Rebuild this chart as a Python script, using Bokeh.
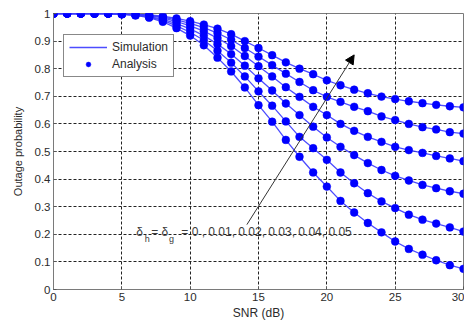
from bokeh.plotting import figure
from bokeh.models import (Range1d, FixedTicker, CustomJSTickFormatter, Legend, LegendItem,
                          Arrow, NormalHead, ColumnDataSource)
from bokeh.core.properties import value
from bokeh.embed import file_html
from bokeh.resources import INLINE

snr = [0, 1, 2, 3, 4, 5, 6, 7, 8, 9, 10, 11, 12, 13, 14, 15, 16, 17, 18, 19, 20,
       21, 22, 23, 24, 25, 26, 27, 28, 29, 30]

delta_000 = [1.0, 1.0, 1.0, 1.0, 1.0, 0.999, 0.998, 0.995, 0.990, 0.982, 0.972, 0.960, 0.945,
             0.925, 0.900, 0.875, 0.849, 0.823, 0.800, 0.780, 0.758, 0.740, 0.724, 0.711,
             0.699, 0.690, 0.682, 0.675, 0.669, 0.664, 0.660]
delta_001 = [1.0, 1.0, 1.0, 1.0, 1.0, 0.999, 0.997, 0.994, 0.987, 0.977, 0.964, 0.949, 0.929,
             0.905, 0.875, 0.844, 0.813, 0.782, 0.752, 0.722, 0.698, 0.680, 0.662, 0.646,
             0.627, 0.614, 0.600, 0.588, 0.580, 0.570, 0.565]
delta_002 = [1.0, 1.0, 1.0, 1.0, 1.0, 0.998, 0.996, 0.992, 0.984, 0.971, 0.955, 0.936, 0.911,
             0.882, 0.846, 0.809, 0.772, 0.733, 0.698, 0.662, 0.632, 0.600, 0.575, 0.553,
             0.535, 0.517, 0.505, 0.495, 0.484, 0.475, 0.465]
delta_003 = [1.0, 1.0, 1.0, 1.0, 1.0, 0.998, 0.995, 0.990, 0.979, 0.963, 0.944, 0.920, 0.889,
             0.853, 0.811, 0.765, 0.721, 0.674, 0.632, 0.590, 0.551, 0.517, 0.487, 0.458,
             0.433, 0.412, 0.395, 0.379, 0.367, 0.356, 0.347]
delta_004 = [1.0, 1.0, 1.0, 1.0, 1.0, 0.997, 0.994, 0.987, 0.975, 0.955, 0.932, 0.903, 0.865,
             0.822, 0.772, 0.718, 0.666, 0.609, 0.553, 0.512, 0.470, 0.424, 0.385, 0.349,
             0.319, 0.295, 0.271, 0.253, 0.239, 0.225, 0.210]
delta_005 = [1.0, 1.0, 1.0, 1.0, 1.0, 0.997, 0.993, 0.985, 0.970, 0.947, 0.920, 0.885, 0.840,
             0.790, 0.732, 0.668, 0.608, 0.542, 0.481, 0.424, 0.373, 0.321, 0.279, 0.241,
             0.207, 0.174, 0.147, 0.126, 0.106, 0.088, 0.075]

curves = [delta_000, delta_001, delta_002, delta_003, delta_004, delta_005]

x_ticks = [0, 5, 10, 15, 20, 25, 30]
y_ticks = [0, 0.1, 0.2, 0.3, 0.4, 0.5, 0.6, 0.7, 0.8, 0.9, 1]

FONT = "Liberation Sans"
TXT = "#2b2b2b"

p = figure(width=464, height=322, output_backend="svg", toolbar_location=None,
           x_range=Range1d(0, 30), y_range=Range1d(0, 1),
           min_border_left=53, min_border_right=1, min_border_top=13, min_border_bottom=32)
p.background_fill_color = "white"
p.border_fill_color = "white"
p.outline_line_color = "#7a7a7a"
p.outline_line_width = 1

line_renderers = []
scatter_renderers = []
for ys in curves:
    src = ColumnDataSource(dict(x=snr, y=ys))
    lr = p.line("x", "y", source=src, line_color="#3a3aff", line_width=1.3, line_alpha=0.9)
    sr = p.scatter("x", "y", source=src, marker="circle", size=7.8,
                   fill_color="#0000ff", line_color="#0000ff", line_width=0.5)
    line_renderers.append(lr)
    scatter_renderers.append(sr)

# axes
for ax in (p.xaxis[0], p.yaxis[0]):
    ax.axis_line_color = "#7a7a7a"
    ax.major_tick_in = 3
    ax.major_tick_out = 0
    ax.major_tick_line_color = "#555555"
    ax.minor_tick_line_color = None
    ax.major_label_text_font = FONT
    ax.major_label_text_font_size = "11.5px"
    ax.major_label_text_color = TXT
    ax.axis_label_text_font = FONT
    ax.axis_label_text_font_style = "normal"
    ax.axis_label_text_color = TXT

p.xaxis.ticker = FixedTicker(ticks=x_ticks)
p.yaxis.ticker = FixedTicker(ticks=y_ticks)
p.yaxis.formatter = CustomJSTickFormatter(code="return (Math.round(tick*10)/10).toString();")
p.xaxis.axis_label = "SNR (dB)"
p.yaxis.axis_label = "Outage probability"
p.xaxis.axis_label_text_font_size = "12px"
p.yaxis.axis_label_text_font_size = "11px"
p.xaxis.major_label_standoff = 3
p.xaxis.axis_label_standoff = 2
p.yaxis.major_label_standoff = 3
p.yaxis.axis_label_standoff = 8

p.grid.grid_line_color = "#222222"
p.grid.grid_line_dash = "3 2"
p.grid.grid_line_width = 1
p.xgrid.ticker = FixedTicker(ticks=x_ticks)
p.ygrid.ticker = FixedTicker(ticks=y_ticks)

# legend
legend = Legend(items=[LegendItem(label="Simulation", renderers=[line_renderers[0]]),
                       LegendItem(label="Analysis", renderers=[scatter_renderers[0]])],
                location=(10, 212))
legend.border_line_color = "#111111"
legend.border_line_width = 1
legend.background_fill_color = "white"
legend.background_fill_alpha = 1
legend.label_text_font = FONT
legend.label_text_font_size = "12px"
legend.label_text_color = TXT
legend.glyph_width = 38
legend.glyph_height = 12
legend.label_height = 12
legend.label_standoff = 5
legend.padding = 5
legend.spacing = 3
legend.margin = 0
p.add_layout(legend)

# arrow annotation
p.add_layout(Arrow(end=NormalHead(size=9, fill_color="black", line_color="black"),
                   x_start=14.15, y_start=0.235, x_end=22.0, y_end=0.85,
                   line_color="#333333", line_width=1))

# delta text with subscripts
main_pieces = [(6.05, "\u03b4"), (7.15, "= \u03b4"), (9.35, "= 0 , 0.01, 0.02, 0.03, 0.04, 0.05")]
sub_pieces = [(6.68, "h"), (8.45, "g")]
p.text(x=[a for a, _ in main_pieces], y=[0.207] * 3, text=[b for _, b in main_pieces],
       text_font=value(FONT), text_font_size="12px", text_color="#3a3a3a",
       text_baseline="middle", text_align="left")
p.text(x=[a for a, _ in sub_pieces], y=[0.183] * 2, text=[b for _, b in sub_pieces],
       text_font=value(FONT), text_font_size="9px", text_color="#3a3a3a",
       text_baseline="middle", text_align="left")

open("out.html", "w").write(file_html(p, INLINE))
